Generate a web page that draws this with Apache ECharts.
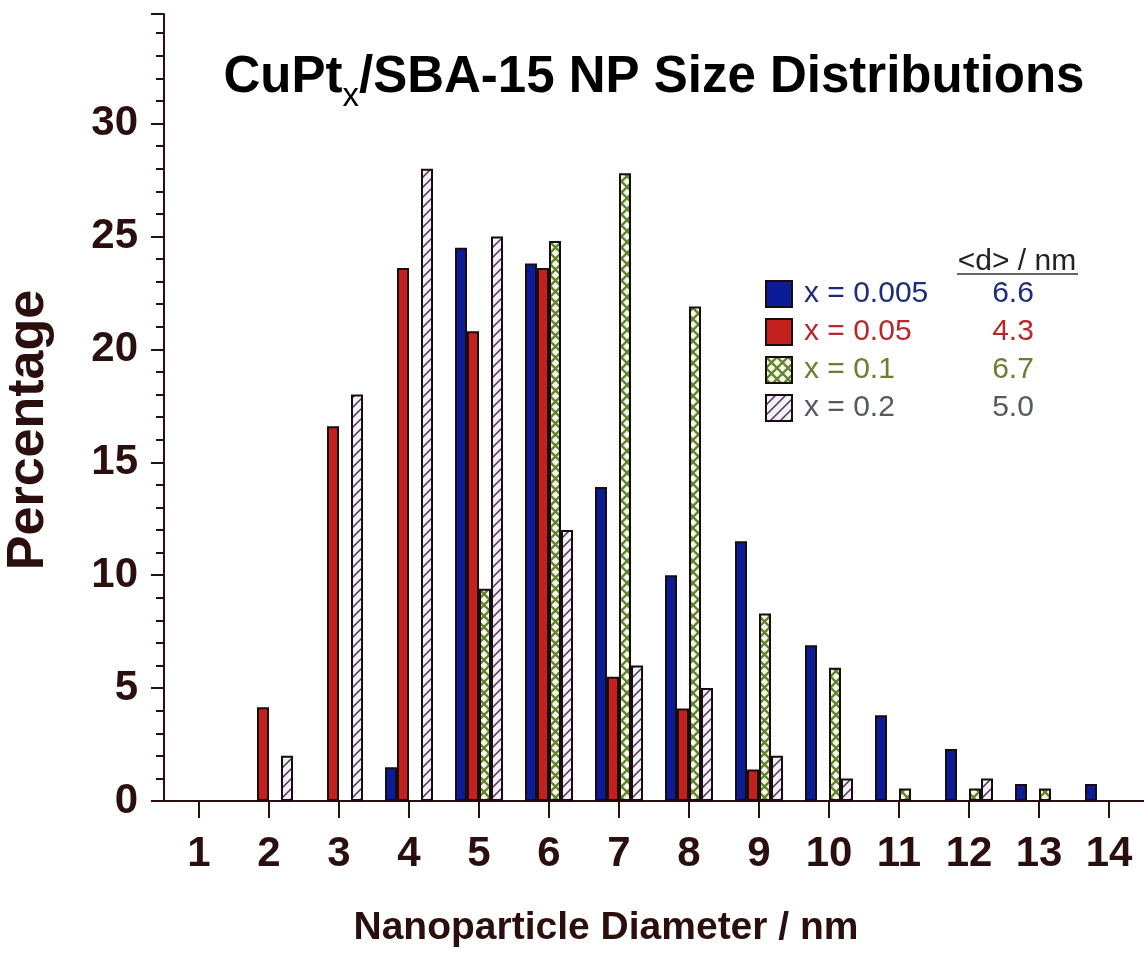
<!DOCTYPE html>
<html>
<head>
<meta charset="utf-8">
<script src="https://cdn.jsdelivr.net/npm/echarts@6/dist/echarts.min.js"></script>
<style>
html,body{margin:0;padding:0;background:#fff;}
#chart{width:1144px;height:954px;}
</style>
</head>
<body>
<div id="chart"></div>
<script>
// ---- data ----
var categories = ['1','2','3','4','5','6','7','8','9','10','11','12','13','14'];
var seriesNames = ['x = 0.005','x = 0.05','x = 0.1','x = 0.2'];
var meanD = ['6.6','4.3','6.7','5.0'];
var x005 = [null, null, null, 1.5, 24.5, 23.8, 13.9, 10.0, 11.5, 6.9, 3.8, 2.3, 0.75, 0.75];
var x05  = [null, 4.15, 16.6, 23.6, 20.8, 23.6, 5.5, 4.1, 1.4, null, null, null, null, null];
var x1   = [null, null, null, null, 9.4, 24.8, 27.8, 21.9, 8.3, 5.9, 0.55, 0.55, 0.55, null];
var x2   = [null, 2.0, 18.0, 28.0, 25.0, 12.0, 6.0, 5.0, 2.0, 1.0, null, 1.0, null, null];
var yMajorTicks = [0,5,10,15,20,25,30];
var titleParts = ['CuPt', 'x', '/SBA-15 NP Size Distributions'];

// ---- patterns ----
function crossPattern(){
  var s = 11, c = document.createElement('canvas'); c.width = s; c.height = s;
  var g = c.getContext('2d');
  g.fillStyle = '#f9fbe9'; g.fillRect(0,0,s,s);
  g.strokeStyle = '#5f8430'; g.lineWidth = 2.3;
  g.beginPath(); g.moveTo(0,0); g.lineTo(s,s); g.moveTo(s,0); g.lineTo(0,s); g.stroke();
  return {image: c, repeat: 'repeat'};
}
function slashPattern(){
  var s = 10, c = document.createElement('canvas'); c.width = s; c.height = s;
  var g = c.getContext('2d');
  g.fillStyle = '#f6eefb'; g.fillRect(0,0,s,s);
  g.strokeStyle = '#3e3e4c'; g.lineWidth = 1.5;
  g.beginPath(); g.moveTo(-1,s+1); g.lineTo(s+1,-1);
  g.moveTo(-1,1); g.lineTo(1,-1); g.moveTo(s-1,s+1); g.lineTo(s+1,s-1); g.stroke();
  return {image: c, repeat: 'repeat'};
}

var ink = '#2b0f0f';
var textColors = ['#1f2c7c','#b8282a','#6c7d34','#555a62'];
var fills = ['#0a1c98', '#c4201e', crossPattern(), slashPattern()];
var datas = [x005, x05, x1, x2];

// measure title parts
var mctx = document.createElement('canvas').getContext('2d');
var mainFont = 'bold 51px "Liberation Sans"', subFont = '33px "Liberation Sans"';
mctx.font = mainFont; var w0 = mctx.measureText(titleParts[0]).width, w2 = mctx.measureText(titleParts[2]).width;
mctx.font = subFont; var w1 = mctx.measureText(titleParts[1]).width;
var tX0 = 654 - (w0 + w1 + w2) / 2;

var chart = echarts.init(document.getElementById('chart'), null, {renderer:'canvas'});

var series = datas.map(function(d, i){
  return {
    name: seriesNames[i], type: 'bar', data: d,
    barWidth: 12, barGap: '0%',
    xAxisIndex: 0, yAxisIndex: 0,
    itemStyle: {color: fills[i], borderColor: '#1a0c0c', borderWidth: 2},
    emphasis: {disabled: true}
  };
});

var option = {
  animation: false,
  backgroundColor: '#ffffff',
  grid: {left: 164, top: 14, width: 980, height: 787, containLabel: false},
  xAxis: [{
    type: 'category', data: categories, position: 'bottom',
    axisLine: {show: true, lineStyle: {color: ink, width: 2}},
    axisTick: {show: true, alignWithLabel: true, length: 17, lineStyle: {color: ink, width: 2}},
    axisLabel: {fontSize: 42, fontWeight: 'bold', color: ink, margin: 32, fontFamily: 'Liberation Sans'},
    splitLine: {show: false}
  },{
    type: 'category', data: categories, position: 'top',
    axisLine: {show: true, lineStyle: {color: ink, width: 2}},
    axisTick: {show: false}, axisLabel: {show: false}, splitLine: {show: false}
  }],
  yAxis: [{
    type: 'value', min: 0, max: 34.85, interval: 5, position: 'left',
    axisLine: {show: true, lineStyle: {color: ink, width: 2}},
    axisTick: {show: true, length: 13, lineStyle: {color: ink, width: 2}},
    axisLabel: {fontSize: 42, fontWeight: 'bold', color: ink, margin: 26, fontFamily: 'Liberation Sans',
      formatter: function(v){ return yMajorTicks.indexOf(v) >= 0 ? String(v) : ''; }},
    splitLine: {show: false}
  },{
    type: 'value', min: 0, max: 34.85, interval: 1, position: 'left',
    axisLine: {show: false},
    axisTick: {show: true, length: 8, lineStyle: {color: ink, width: 2}},
    axisLabel: {show: false}, splitLine: {show: false}
  }],
  legend: {
    orient: 'vertical', left: 765, top: 279, padding: 0,
    itemWidth: 26, itemHeight: 26, itemGap: 8, icon: 'rect',
    selectedMode: false,
    data: seriesNames.map(function(n, i){ return {name: n, textStyle: {color: textColors[i]}}; }),
    formatter: function(name){ var i = seriesNames.indexOf(name); return '{n|' + name + '}{v|' + meanD[i] + '}'; },
    textStyle: {fontSize: 30, fontFamily: 'Liberation Sans',
      rich: {
        n: {fontSize: 30, fontFamily: 'Liberation Sans', width: 159, padding: [0,0,0,7]},
        v: {fontSize: 30, fontFamily: 'Liberation Sans', width: 100, align: 'center'}
      }}
  },
  graphic: [
    {type: 'text', x: tX0, y: 52, silent: true, style: {
      text: titleParts[0], align: 'left', verticalAlign: 'top',
      fontSize: 51, fontWeight: 'bold', fontFamily: 'Liberation Sans', fill: '#000'}},
    {type: 'text', x: tX0 + w0, y: 80, silent: true, style: {
      text: titleParts[1], align: 'left', verticalAlign: 'top',
      fontSize: 33, fontFamily: 'Liberation Sans', fill: '#000'}},
    {type: 'text', x: tX0 + w0 + w1, y: 52, silent: true, style: {
      text: titleParts[2], align: 'left', verticalAlign: 'top',
      fontSize: 51, fontWeight: 'bold', fontFamily: 'Liberation Sans', fill: '#000'}},
    {type: 'text', x: 606, y: 928, silent: true, style: {
      text: 'Nanoparticle Diameter / nm', align: 'center', verticalAlign: 'middle',
      fontSize: 39, fontWeight: 'bold', fontFamily: 'Liberation Sans', fill: ink}},
    {type: 'text', x: 29, y: 430, rotation: Math.PI/2, silent: true, style: {
      text: 'Percentage', align: 'center', verticalAlign: 'middle',
      fontSize: 52, fontWeight: 'bold', fontFamily: 'Liberation Sans', fill: ink}},
    {type: 'text', x: 1017, y: 262, silent: true, style: {
      text: '<d> / nm', align: 'center', verticalAlign: 'middle',
      fontSize: 30, fontFamily: 'Liberation Sans', fill: '#222'}},
    {type: 'line', silent: true, shape: {x1: 957, y1: 274, x2: 1078, y2: 274},
      style: {stroke: '#333', lineWidth: 1.5}}
  ],
  series: series
};
chart.setOption(option);
</script>
</body>
</html>
